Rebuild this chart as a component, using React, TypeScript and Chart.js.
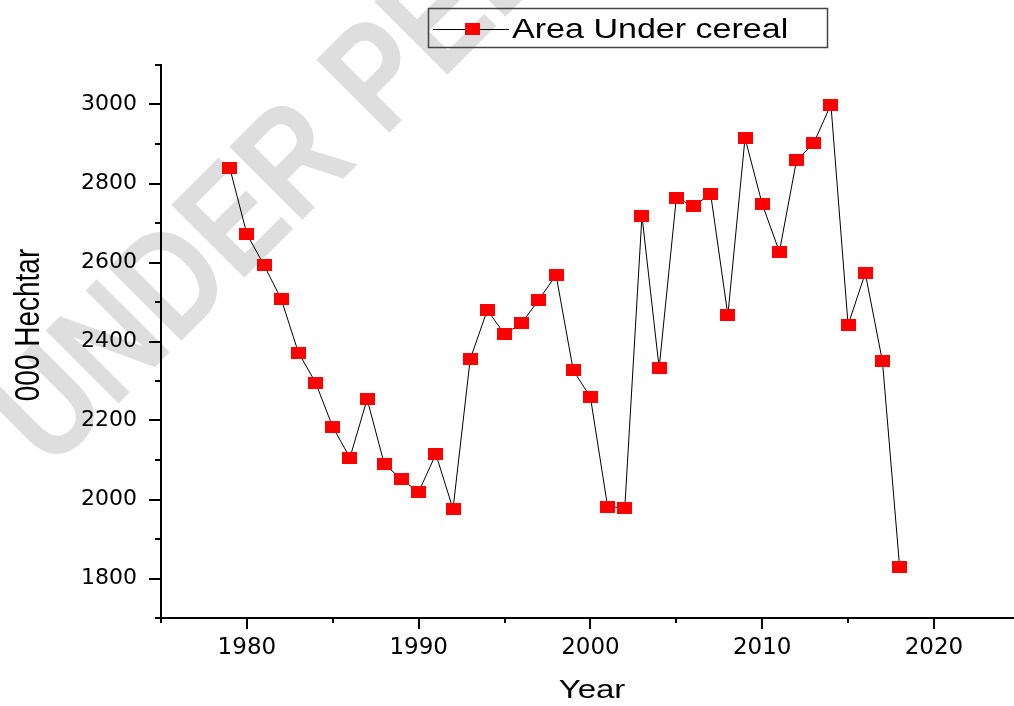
import React, { useEffect, useRef } from 'react';
import { Chart, registerables } from 'chart.js';

Chart.register(...registerables);

const years = [
  1979, 1980, 1981, 1982, 1983, 1984, 1985, 1986, 1987, 1988,
  1989, 1990, 1991, 1992, 1993, 1994, 1995, 1996, 1997, 1998,
  1999, 2000, 2001, 2002, 2003, 2004, 2005, 2006, 2007, 2008,
  2009, 2010, 2011, 2012, 2013, 2014, 2015, 2016, 2017, 2018,
];
const areaUnderCereal = [
  2840, 2672, 2593, 2507, 2372, 2296, 2183, 2106, 2254, 2090,
  2051, 2019, 2115, 1976, 2355, 2480, 2418, 2447, 2506, 2568,
  2327, 2259, 1982, 1979, 2718, 2333, 2763, 2743, 2773, 2467,
  2915, 2748, 2627, 2859, 2902, 3000, 2442, 2573, 2350, 1829,
];
const xTickValues = [1975, 1980, 1985, 1990, 1995, 2000, 2005, 2010, 2015, 2020];
const yTickValues = [1700, 1800, 1900, 2000, 2100, 2200, 2300, 2400, 2500, 2600, 2700, 2800, 2900, 3000, 3100];
const seriesLabel = 'Area Under cereal';
const xTitle = 'Year';
const yTitle = '000 Hechtar';
const watermarkText = 'UNDER PEER REVIEW';

const FONT = '"DejaVu Sans", sans-serif';
const ARIAL = '"Liberation Sans", Arial, sans-serif';

export default function App() {
  const ref = useRef<HTMLCanvasElement>(null);

  useEffect(() => {
    const canvas = ref.current;
    if (!canvas) return;

    const marker = document.createElement('canvas');
    marker.width = 15;
    marker.height = 12;
    const mctx = marker.getContext('2d')!;
    mctx.fillStyle = '#ff0000';
    mctx.fillRect(0, 0, 15, 12);

    const decor = {
      id: 'decor',
      beforeDraw(chart: any) {
        const ctx = chart.ctx;
        ctx.save();
        ctx.fillStyle = '#ffffff';
        ctx.fillRect(0, 0, chart.width, chart.height);
        ctx.translate(50, 472);
        ctx.rotate(-Math.PI / 4);
        ctx.scale(0.82, 1);
        ctx.fillStyle = '#dedede';
        ctx.font = `bold 150px ${ARIAL}`;
        ctx.textBaseline = 'alphabetic';
        ctx.textAlign = 'left';
        ctx.fillText(watermarkText, 0, 0);
        ctx.restore();
      },
      afterDraw(chart: any) {
        const ctx = chart.ctx;
        const { left, bottom } = chart.chartArea;
        const xs = chart.scales.x;
        const ys = chart.scales.y;
        ctx.save();
        ctx.strokeStyle = '#000000';
        ctx.lineWidth = 2;
        ctx.beginPath();
        yTickValues.forEach((v) => {
          const y = Math.round(ys.getPixelForValue(v));
          const len = v % 200 === 0 ? 12 : 6;
          ctx.moveTo(left - len, y);
          ctx.lineTo(left, y);
        });
        xTickValues.forEach((v) => {
          const x = Math.round(xs.getPixelForValue(v));
          const len = v % 10 === 0 ? 11 : 5;
          ctx.moveTo(x, bottom);
          ctx.lineTo(x, bottom + len);
        });
        ctx.stroke();

        // axis titles
        ctx.fillStyle = '#000000';
        ctx.textAlign = 'center';
        ctx.textBaseline = 'alphabetic';
        ctx.save();
        ctx.translate(592, 698);
        ctx.scale(1.27, 1);
        ctx.font = `26px ${ARIAL}`;
        ctx.fillText(xTitle, 0, 0);
        ctx.restore();
        ctx.save();
        ctx.translate(39, 325);
        ctx.rotate(-Math.PI / 2);
        ctx.scale(1, 1.22);
        ctx.font = `28px ${ARIAL}`;
        ctx.fillText(yTitle, 0, 0);
        ctx.restore();

        // legend
        ctx.strokeStyle = '#444444';
        ctx.lineWidth = 1.5;
        ctx.strokeRect(428.5, 8.5, 399, 39);
        ctx.strokeStyle = '#000000';
        ctx.lineWidth = 1;
        ctx.beginPath();
        ctx.moveTo(433, 29.5);
        ctx.lineTo(509, 29.5);
        ctx.stroke();
        ctx.drawImage(marker, 465, 23);
        ctx.save();
        ctx.translate(512, 38);
        ctx.scale(1.216, 1);
        ctx.textAlign = 'left';
        ctx.font = `28px ${ARIAL}`;
        ctx.fillText(seriesLabel, 0, 0);
        ctx.restore();
        ctx.restore();
      },
    };

    const chart = new Chart(canvas, {
      type: 'line',
      data: {
        datasets: [
          {
            label: seriesLabel,
            data: years.map((yr, i) => ({ x: yr, y: areaUnderCereal[i] })),
            borderColor: '#000000',
            borderWidth: 1,
            backgroundColor: '#ff0000',
            pointStyle: marker as any,
            pointRadius: 7,
            pointHoverRadius: 7,
            tension: 0,
            fill: false,
            clip: false as any,
          },
        ],
      },
      options: {
        responsive: false,
        animation: false,
        devicePixelRatio: 1,
        layout: { autoPadding: false, padding: { top: 65, right: 1, left: 0, bottom: 0 } },
        plugins: {
          legend: { display: false },
          tooltip: { enabled: false },
          title: { display: false },
        },
        scales: {
          x: {
            type: 'linear',
            bounds: 'data',
            min: 1975,
            max: 2024.6,
            afterFit: (s: any) => {
              s.height = 88;
              s.paddingLeft = 0;
              s.paddingRight = 0;
            },
            afterBuildTicks: (s: any) => {
              s.ticks = xTickValues.map((v) => ({ value: v }));
            },
            ticks: {
              autoSkip: false,
              maxRotation: 0,
              padding: 16,
              color: '#000000',
              font: { family: FONT, size: 23 },
              callback: (v: any) => (Number(v) % 10 === 0 ? String(v) : ''),
            },
            grid: { display: true, drawOnChartArea: false, drawTicks: false },
            border: { display: true, color: '#000000', width: 2 },
          },
          y: {
            type: 'linear',
            bounds: 'data',
            min: 1700,
            max: 3100,
            afterFit: (s: any) => {
              s.width = 161;
              s.paddingTop = 0;
              s.paddingBottom = 0;
            },
            afterBuildTicks: (s: any) => {
              s.ticks = yTickValues.map((v) => ({ value: v }));
            },
            ticks: {
              autoSkip: false,
              padding: 24,
              color: '#000000',
              font: { family: FONT, size: 22 },
              callback: (v: any) => (Number(v) % 200 === 0 ? String(v) : ''),
            },
            grid: { display: true, drawOnChartArea: false, drawTicks: false },
            border: { display: true, color: '#000000', width: 2 },
          },
        },
      },
      plugins: [decor],
    });

    return () => {
      chart.destroy();
    };
  }, []);

  return (
    <div style={{ position: 'fixed', left: 0, top: 0, width: 1014, height: 706, background: '#ffffff' }}>
      <canvas ref={ref} width={1014} height={706} style={{ display: 'block', width: 1014, height: 706 }} />
    </div>
  );
}
